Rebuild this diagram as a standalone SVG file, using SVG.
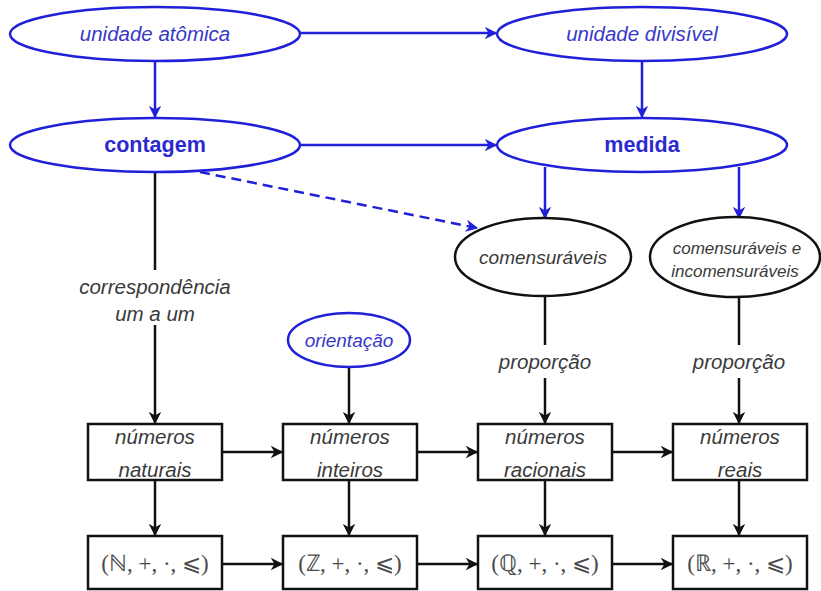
<svg xmlns="http://www.w3.org/2000/svg" width="821" height="591" viewBox="0 0 821 591">
<style>
.bl{fill:#fff;stroke:#2020d8;stroke-width:2.5}
.bk{fill:#fff;stroke:#111;stroke-width:2.5}
.tb{font-family:"Liberation Sans",Arial,sans-serif;font-style:italic;fill:#3838c8;font-size:20.5px;text-anchor:middle}
.tbb{font-family:"Liberation Sans",Arial,sans-serif;font-weight:bold;fill:#2a2ad0;font-size:21.5px;text-anchor:middle}
.tg{font-family:"Liberation Sans",Arial,sans-serif;font-style:italic;fill:#3a3a3a;font-size:20.5px;text-anchor:middle}
.tm{font-family:"Liberation Serif","Times New Roman",serif;fill:#4a4a4a;font-size:23px;text-anchor:middle}
.cb{stroke:#2020d8;stroke-width:2.5;fill:none}
.ck{stroke:#111;stroke-width:2.5;fill:none}
</style>
<defs>
<marker id="ab" viewBox="0 0 10 10" refX="9" refY="5" markerWidth="5" markerHeight="5" orient="auto" markerUnits="strokeWidth"><path d="M0,0 L10,5 L0,10 L3,5 z" fill="#2020d8"/></marker>
<marker id="ak" viewBox="0 0 10 10" refX="9" refY="5" markerWidth="5" markerHeight="5" orient="auto" markerUnits="strokeWidth"><path d="M0,0 L10,5 L0,10 L3,5 z" fill="#111"/></marker>
</defs>
<rect width="821" height="591" fill="#fff"/>
<g id="connectors">
<line class="cb" x1="300" y1="33" x2="496" y2="33" marker-end="url(#ab)"/>
<line class="cb" x1="300" y1="145" x2="496" y2="145" marker-end="url(#ab)"/>
<line class="cb" x1="155" y1="61" x2="155" y2="117" marker-end="url(#ab)"/>
<line class="cb" x1="642" y1="61" x2="642" y2="117" marker-end="url(#ab)"/>
<line class="cb" x1="545" y1="167" x2="545" y2="218" marker-end="url(#ab)"/>
<line class="cb" x1="739" y1="167" x2="739" y2="218" marker-end="url(#ab)"/>
<line class="cb" x1="200" y1="172" x2="477" y2="228" stroke-dasharray="10,6" marker-end="url(#ab)"/>
<line class="ck" x1="155" y1="173" x2="155" y2="270"/>
<line class="ck" x1="155" y1="325" x2="155" y2="423" marker-end="url(#ak)"/>
<line class="ck" x1="349" y1="368" x2="349" y2="423" marker-end="url(#ak)"/>
<line class="ck" x1="545" y1="297" x2="545" y2="345"/>
<line class="ck" x1="545" y1="378" x2="545" y2="423" marker-end="url(#ak)"/>
<line class="ck" x1="739" y1="297" x2="739" y2="345"/>
<line class="ck" x1="739" y1="378" x2="739" y2="423" marker-end="url(#ak)"/>
<line class="ck" x1="222" y1="452" x2="282" y2="452" marker-end="url(#ak)"/>
<line class="ck" x1="417" y1="452" x2="477" y2="452" marker-end="url(#ak)"/>
<line class="ck" x1="612" y1="452" x2="672" y2="452" marker-end="url(#ak)"/>
<line class="ck" x1="222" y1="564" x2="282" y2="564" marker-end="url(#ak)"/>
<line class="ck" x1="417" y1="564" x2="477" y2="564" marker-end="url(#ak)"/>
<line class="ck" x1="612" y1="564" x2="672" y2="564" marker-end="url(#ak)"/>
<line class="ck" x1="155" y1="480" x2="155" y2="535" marker-end="url(#ak)"/>
<line class="ck" x1="349" y1="480" x2="349" y2="535" marker-end="url(#ak)"/>
<line class="ck" x1="545" y1="480" x2="545" y2="535" marker-end="url(#ak)"/>
<line class="ck" x1="739" y1="480" x2="739" y2="535" marker-end="url(#ak)"/>
<text class="tg" x="155" y="294">correspondência</text>
<text class="tg" x="155" y="321">um a um</text>
<text class="tg" x="545" y="369">proporção</text>
<text class="tg" x="739" y="369">proporção</text>
</g>
<g id="unidade-atomica"><ellipse class="bl" cx="155" cy="34" rx="145" ry="27"/><text class="tb" x="155" y="41">unidade atômica</text></g>
<g id="unidade-divisivel"><ellipse class="bl" cx="642" cy="34" rx="145" ry="27"/><text class="tb" x="642" y="41">unidade divisível</text></g>
<g id="contagem"><ellipse class="bl" cx="155" cy="145" rx="145" ry="27"/><text class="tbb" x="155" y="152">contagem</text></g>
<g id="medida"><ellipse class="bl" cx="642" cy="145" rx="145" ry="27"/><text class="tbb" x="642" y="152">medida</text></g>
<g id="comensuraveis"><ellipse class="bk" cx="543" cy="257" rx="88" ry="39"/><text class="tg" x="543" y="264" style="font-size:19px">comensuráveis</text></g>
<g id="comens-incomens"><ellipse class="bk" cx="735" cy="257" rx="85" ry="40"/><text class="tg" x="737" y="254" style="font-size:17px">comensuráveis e</text><text class="tg" x="735" y="277" style="font-size:17px">incomensuráveis</text></g>
<g id="orientacao"><ellipse class="bl" cx="349" cy="340" rx="61" ry="27"/><text class="tb" x="349" y="347" style="font-size:19px">orientação</text></g>
<g id="naturais"><rect class="bk" x="88" y="424" width="134" height="56"/><text class="tg" x="155" y="444">números</text><text class="tg" x="155" y="477">naturais</text></g>
<g id="inteiros"><rect class="bk" x="283" y="424" width="134" height="56"/><text class="tg" x="350" y="444">números</text><text class="tg" x="350" y="477">inteiros</text></g>
<g id="racionais"><rect class="bk" x="478" y="424" width="134" height="56"/><text class="tg" x="545" y="444">números</text><text class="tg" x="545" y="477">racionais</text></g>
<g id="reais"><rect class="bk" x="673" y="424" width="134" height="56"/><text class="tg" x="740" y="444">números</text><text class="tg" x="740" y="477">reais</text></g>
<g id="N"><rect class="bk" x="88" y="536" width="134" height="53"/><text class="tm" x="155" y="571">(ℕ, +, ·, ⩽)</text></g>
<g id="Z"><rect class="bk" x="283" y="536" width="134" height="53"/><text class="tm" x="350" y="571">(ℤ, +, ·, ⩽)</text></g>
<g id="Q"><rect class="bk" x="478" y="536" width="134" height="53"/><text class="tm" x="545" y="571">(ℚ, +, ·, ⩽)</text></g>
<g id="R"><rect class="bk" x="673" y="536" width="134" height="53"/><text class="tm" x="740" y="571">(ℝ, +, ·, ⩽)</text></g>
</svg>
